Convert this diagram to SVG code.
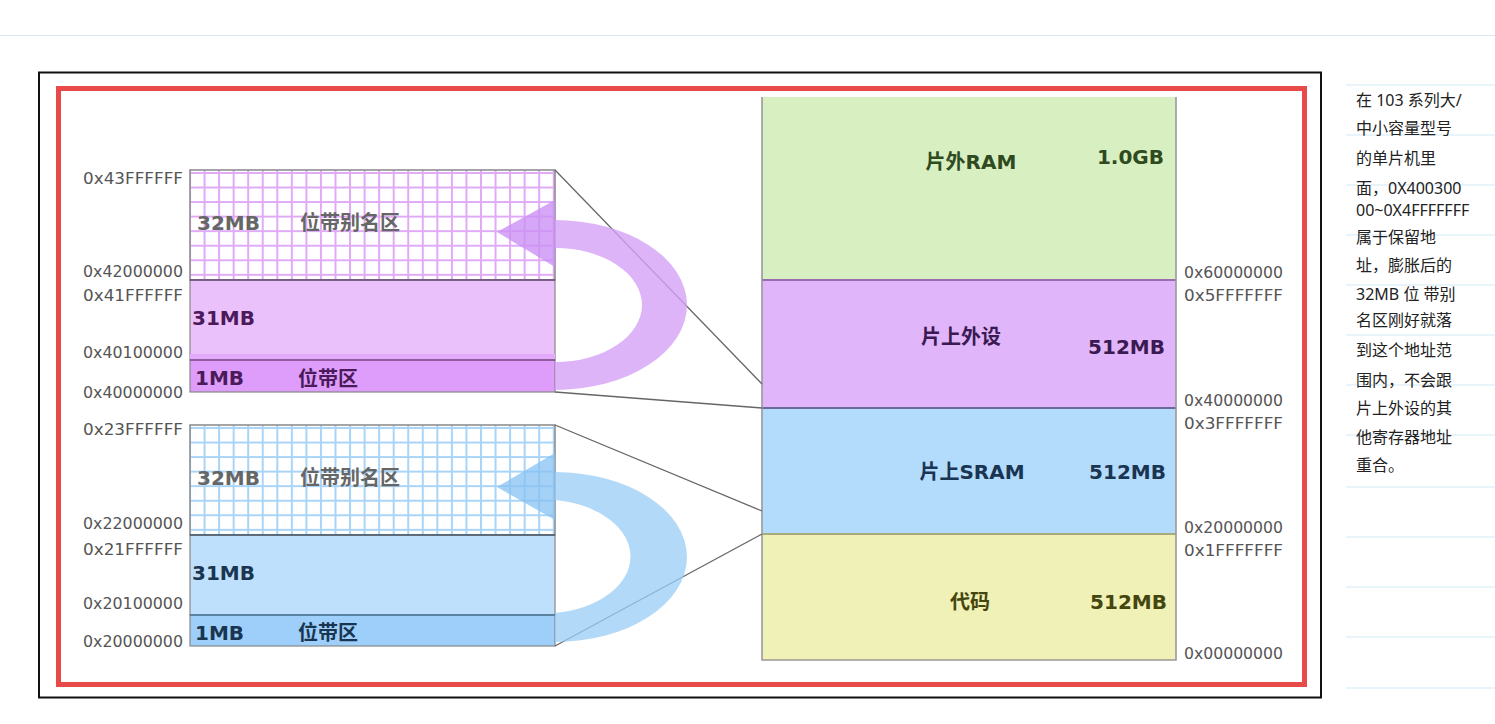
<svg xmlns="http://www.w3.org/2000/svg" width="1495" height="724" viewBox="0 0 1495 724">
<style>
.addr{font-family:"DejaVu Sans",sans-serif;font-size:15.5px;fill:#555}
.addrR{font-family:"DejaVu Sans",sans-serif;font-size:16px;fill:#555;text-anchor:end}
.size{font-family:"DejaVu Sans","Noto Sans CJK SC",sans-serif;font-size:20px;font-weight:bold}
.cn{font-family:"Noto Sans CJK SC",sans-serif;font-size:20px;font-weight:bold}
.lbl{font-family:"DejaVu Sans","Noto Sans CJK SC",sans-serif;font-size:20px;font-weight:bold}
.note{font-family:"Noto Sans","Noto Sans CJK SC",sans-serif;font-size:16px;fill:#222}
.conn{stroke:#666;stroke-width:1.3;fill:none}
.rule{stroke:#d4e8f5;stroke-width:1.2}
</style>
<defs>
<pattern id="gridP" patternUnits="userSpaceOnUse" x="189" y="172" width="14.55" height="14.55">
<rect width="14.55" height="14.55" fill="#fff"/>
<path d="M1 0V14.55M0 1H14.55" stroke="#e0aaf6" stroke-width="2"/>
</pattern>
<pattern id="gridB" patternUnits="userSpaceOnUse" x="189" y="427" width="14.55" height="14.55">
<rect width="14.55" height="14.55" fill="#fff"/>
<path d="M1 0V14.55M0 1H14.55" stroke="#a8d4f8" stroke-width="2"/>
</pattern>
</defs>
<rect width="1495" height="724" fill="#fff"/>
<line x1="0" y1="35.5" x2="1495" y2="35.5" stroke="#dde7ef" stroke-width="1.2"/>
<rect x="39" y="72.5" width="1282" height="625" fill="none" stroke="#111" stroke-width="2"/>
<rect x="58.5" y="88.5" width="1246" height="596" fill="none" stroke="#e84a4a" stroke-width="5"/>

<g id="purple-alias">
<rect x="190" y="170" width="365" height="110" fill="url(#gridP)" stroke="#888" stroke-width="1.5"/>
<text class="size" x="197" y="230" fill="#666">32MB</text>
<text class="cn" x="300" y="230" fill="#666">位带别名区</text>
</g>
<g id="purple-31mb">
<rect x="190" y="280" width="365" height="80" fill="#ebc1fc" stroke="#888" stroke-width="1.2"/>
<rect x="190" y="354" width="365" height="6" fill="#e2aafa"/>
<line x1="190" y1="280" x2="555" y2="280" stroke="#6a4a7a" stroke-width="1.5"/>
<text class="size" x="192" y="325" fill="#4a1a5a">31MB</text>
</g>
<g id="purple-bitband">
<rect x="190" y="360" width="365" height="32" fill="#de9dfa" stroke="#888" stroke-width="1.2"/>
<line x1="190" y1="360" x2="555" y2="360" stroke="#8a4a9a" stroke-width="1.5"/>
<text class="size" x="195" y="385" fill="#4a1a5a">1MB</text>
<text class="cn" x="298" y="386" fill="#4a1a5a">位带区</text>
</g>

<g id="blue-alias">
<rect x="190" y="425" width="365" height="110" fill="url(#gridB)" stroke="#888" stroke-width="1.5"/>
<text class="size" x="197" y="485" fill="#666">32MB</text>
<text class="cn" x="300" y="485" fill="#666">位带别名区</text>
</g>
<g id="blue-31mb">
<rect x="190" y="535" width="365" height="80" fill="#bfe0fc" stroke="#888" stroke-width="1.2"/>
<line x1="190" y1="535" x2="555" y2="535" stroke="#4a5a6a" stroke-width="1.5"/>
<text class="size" x="192" y="580" fill="#1a3550">31MB</text>
</g>
<g id="blue-bitband">
<rect x="190" y="615" width="365" height="31" fill="#9dcffa" stroke="#888" stroke-width="1.2"/>
<line x1="190" y1="615" x2="555" y2="615" stroke="#4a7aa0" stroke-width="1.5"/>
<text class="size" x="195" y="640" fill="#1a3550">1MB</text>
<text class="cn" x="298" y="640" fill="#1a3550">位带区</text>
</g>

<g id="left-addresses">
<text class="addrR" x="183" y="184" textLength="100" lengthAdjust="spacingAndGlyphs">0x43FFFFFF</text>
<text class="addrR" x="183" y="277" textLength="100" lengthAdjust="spacingAndGlyphs">0x42000000</text>
<text class="addrR" x="183" y="301" textLength="100" lengthAdjust="spacingAndGlyphs">0x41FFFFFF</text>
<text class="addrR" x="183" y="358" textLength="100" lengthAdjust="spacingAndGlyphs">0x40100000</text>
<text class="addrR" x="183" y="398" textLength="100" lengthAdjust="spacingAndGlyphs">0x40000000</text>
<text class="addrR" x="183" y="435" textLength="100" lengthAdjust="spacingAndGlyphs">0x23FFFFFF</text>
<text class="addrR" x="183" y="529" textLength="100" lengthAdjust="spacingAndGlyphs">0x22000000</text>
<text class="addrR" x="183" y="555" textLength="100" lengthAdjust="spacingAndGlyphs">0x21FFFFFF</text>
<text class="addrR" x="183" y="609" textLength="100" lengthAdjust="spacingAndGlyphs">0x20100000</text>
<text class="addrR" x="183" y="647" textLength="100" lengthAdjust="spacingAndGlyphs">0x20000000</text>
</g>

<g id="ext-ram">
<rect x="762" y="97" width="414" height="183" fill="#d8efc1"/>
<text class="lbl" x="971" y="169" text-anchor="middle" fill="#2e4a1e">片外RAM</text>
<text class="lbl" x="1164" y="164" text-anchor="end" fill="#2e4a1e">1.0GB</text>
</g>
<g id="peripheral">
<rect x="762" y="280" width="414" height="128" fill="#e0b5fa"/>
<line x1="762" y1="280" x2="1176" y2="280" stroke="#9a6ab2" stroke-width="1.8"/>
<text class="lbl" x="961" y="344" text-anchor="middle" fill="#3a1a50">片上外设</text>
<text class="lbl" x="1165" y="354" text-anchor="end" fill="#3a1a50">512MB</text>
</g>
<g id="sram">
<rect x="762" y="408" width="414" height="126" fill="#b3dbfc"/>
<line x1="762" y1="408" x2="1176" y2="408" stroke="#6a6a98" stroke-width="1.8"/>
<text class="lbl" x="972" y="479" text-anchor="middle" fill="#1a3552">片上SRAM</text>
<text class="lbl" x="1166" y="479" text-anchor="end" fill="#1a3552">512MB</text>
</g>
<g id="code">
<rect x="762" y="534" width="414" height="126" fill="#f0f1b6"/>
<line x1="762" y1="534" x2="1176" y2="534" stroke="#a8ac78" stroke-width="1.8"/>
<text class="lbl" x="970" y="609" text-anchor="middle" fill="#45450f">代码</text>
<text class="lbl" x="1167" y="609" text-anchor="end" fill="#45450f">512MB</text>
</g>
<g id="right-frame">
<path d="M762 97V660H1176V97" fill="none" stroke="#999" stroke-width="1.6"/>
</g>

<g id="right-addresses">
<text class="addr" x="1184" y="278" textLength="99" lengthAdjust="spacingAndGlyphs">0x60000000</text>
<text class="addr" x="1184" y="301" textLength="99" lengthAdjust="spacingAndGlyphs">0x5FFFFFFF</text>
<text class="addr" x="1184" y="406" textLength="99" lengthAdjust="spacingAndGlyphs">0x40000000</text>
<text class="addr" x="1184" y="429" textLength="99" lengthAdjust="spacingAndGlyphs">0x3FFFFFFF</text>
<text class="addr" x="1184" y="533" textLength="99" lengthAdjust="spacingAndGlyphs">0x20000000</text>
<text class="addr" x="1184" y="556" textLength="99" lengthAdjust="spacingAndGlyphs">0x1FFFFFFF</text>
<text class="addr" x="1184" y="659" textLength="99" lengthAdjust="spacingAndGlyphs">0x00000000</text>
</g>

<g id="connectors">
<line class="conn" x1="555" y1="170" x2="762" y2="384"/>
<line class="conn" x1="555" y1="392" x2="762" y2="408"/>
<line class="conn" x1="555" y1="425" x2="762" y2="511"/>
<line class="conn" x1="555" y1="646" x2="762" y2="534"/>
<g opacity="0.8">
<path d="M555 220A132 85 0 0 1 555 390V362A87 57 0 0 0 555 248Z" fill="#d6a2f8"/>
<path d="M555 200L497 232L555 267Z" fill="#cc92f5"/>
</g>
<g opacity="0.75">
<path d="M555 472A132 85 0 0 1 555 642V613A87 57 0 0 0 555 500Z" fill="#9acdf6"/>
<path d="M555 453L497 487L555 520Z" fill="#88c2f3"/>
</g>
</g>

<g id="note">
<line class="rule" x1="1346" y1="85" x2="1495" y2="85"/>
<line class="rule" x1="1346" y1="135" x2="1495" y2="135"/>
<line class="rule" x1="1346" y1="185" x2="1495" y2="185"/>
<line class="rule" x1="1346" y1="235" x2="1495" y2="235"/>
<line class="rule" x1="1346" y1="285" x2="1495" y2="285"/>
<line class="rule" x1="1346" y1="335" x2="1495" y2="335"/>
<line class="rule" x1="1346" y1="385" x2="1495" y2="385"/>
<line class="rule" x1="1346" y1="435" x2="1495" y2="435"/>
<line class="rule" x1="1346" y1="487" x2="1495" y2="487"/>
<line class="rule" x1="1346" y1="537" x2="1495" y2="537"/>
<line class="rule" x1="1346" y1="587" x2="1495" y2="587"/>
<line class="rule" x1="1346" y1="637" x2="1495" y2="637"/>
<line class="rule" x1="1346" y1="688" x2="1495" y2="688"/>
<text class="note" x="1356" y="106">在 103 系列大/</text>
<text class="note" x="1356" y="134">中小容量型号</text>
<text class="note" x="1356" y="164">的单片机里</text>
<text class="note" x="1356" y="194">面，0X400300</text>
<text class="note" x="1356" y="216">00~0X4FFFFFFF</text>
<text class="note" x="1356" y="243">属于保留地</text>
<text class="note" x="1356" y="271">址，膨胀后的</text>
<text class="note" x="1356" y="300">32MB 位 带别</text>
<text class="note" x="1356" y="326">名区刚好就落</text>
<text class="note" x="1356" y="356">到这个地址范</text>
<text class="note" x="1356" y="386">围内，不会跟</text>
<text class="note" x="1356" y="414">片上外设的其</text>
<text class="note" x="1356" y="443">他寄存器地址</text>
<text class="note" x="1356" y="471">重合。</text>
</g>
</svg>
